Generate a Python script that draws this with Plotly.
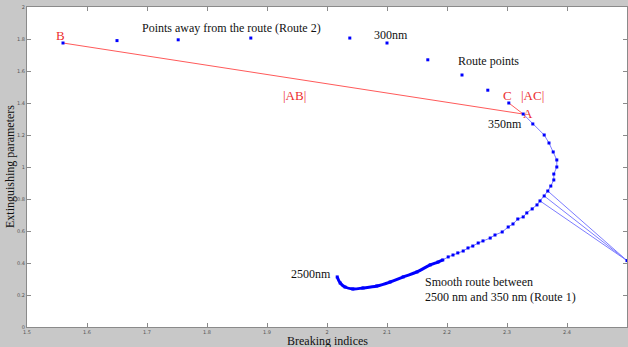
import plotly.graph_objects as go

# ---------------- data ----------------
# Route 1: smooth route from 2500 nm to 350 nm (point A)
route1_x = [2.017, 2.022, 2.030, 2.043, 2.060, 2.083, 2.105, 2.127, 2.150, 2.172,
            2.185, 2.193, 2.202, 2.210, 2.218, 2.227, 2.235, 2.243, 2.252, 2.260,
            2.272, 2.280, 2.292, 2.302, 2.310, 2.318, 2.327, 2.333, 2.342, 2.350,
            2.355, 2.362, 2.368, 2.373, 2.378, 2.378, 2.383, 2.383, 2.377, 2.370,
            2.362, 2.343, 2.327]
route1_y = [0.313, 0.275, 0.250, 0.238, 0.244, 0.256, 0.281, 0.313, 0.344, 0.388,
            0.406, 0.419, 0.438, 0.450, 0.463, 0.475, 0.494, 0.506, 0.525, 0.538,
            0.556, 0.575, 0.594, 0.625, 0.644, 0.675, 0.688, 0.713, 0.738, 0.763,
            0.788, 0.819, 0.850, 0.881, 0.919, 0.956, 1.000, 1.044, 1.094, 1.150,
            1.200, 1.269, 1.331]
smooth_count = 12  # leading points drawn as a thick smooth stroke

# Route 2: points away from the route (B ... C)
route2_x = [1.560, 1.650, 1.752, 1.873, 2.038, 2.100, 2.168, 2.225, 2.268, 2.303]
route2_y = [1.775, 1.790, 1.795, 1.806, 1.806, 1.775, 1.670, 1.575, 1.480, 1.400]

# Far point joined to three route-1 points
far_x = [2.500]
far_y = [0.415]
fan_idx = [30, 31, 32]

x_ticks = [1.5, 1.6, 1.7, 1.8, 1.9, 2.0, 2.1, 2.2, 2.3, 2.4, 2.5]
x_tick_labels = ["1.5", "1.6", "1.7", "1.8", "1.9", "2", "2.1", "2.2", "2.3", "2.4", "2.5"]
y_ticks = [0, 0.2, 0.4, 0.6, 0.8, 1.0, 1.2, 1.4, 1.6, 1.8, 2.0]
y_tick_labels = ["0", "0.2", "0.4", "0.6", "0.8", "1", "1.2", "1.4", "1.6", "1.8", "2"]

BLUE = "#0000ff"
LBLUE = "#7c7cff"
RED = "#ff5a5a"
RED_TXT = "#ec2f2f"
SERIF = "Liberation Serif, Times New Roman, serif"

fig = go.Figure()

# fan lines to far point
for i in fan_idx:
    fig.add_trace(go.Scatter(x=[route1_x[i], far_x[0]], y=[route1_y[i], far_y[0]],
                             mode="lines", line=dict(color=LBLUE, width=1),
                             hoverinfo="skip", showlegend=False))
fig.add_trace(go.Scatter(x=far_x, y=far_y, mode="markers",
                         marker=dict(color=BLUE, size=3, symbol="square"),
                         showlegend=False, cliponaxis=False))

# red lines: B -> A and A -> C
ax_, ay_ = route1_x[-1], route1_y[-1]
fig.add_trace(go.Scatter(x=[route2_x[0], ax_], y=[route2_y[0], ay_], mode="lines",
                         line=dict(color=RED, width=1), showlegend=False))
fig.add_trace(go.Scatter(x=[ax_, route2_x[-1]], y=[ay_, route2_y[-1]], mode="lines",
                         line=dict(color=RED, width=1), showlegend=False))

# route 1
fig.add_trace(go.Scatter(x=route1_x, y=route1_y, mode="lines+markers",
                         line=dict(color=LBLUE, width=1),
                         marker=dict(color=BLUE, size=3, symbol="square"),
                         showlegend=False))
fig.add_trace(go.Scatter(x=route1_x[:smooth_count], y=route1_y[:smooth_count], mode="lines",
                         line=dict(color=BLUE, width=3, shape="spline"),
                         showlegend=False))

# route 2
fig.add_trace(go.Scatter(x=route2_x, y=route2_y, mode="markers",
                         marker=dict(color=BLUE, size=3, symbol="square"),
                         showlegend=False))

def lab(text, x, y, color="#111111", anchor="center", size=12):
    fig.add_annotation(x=x, y=y, xref="x", yref="y", text=text, showarrow=False,
                       xanchor=anchor, yanchor="middle",
                       font=dict(family=SERIF, size=size, color=color))

lab("Points away from the route (Route 2)", 1.84, 1.869)
lab("300nm", 2.075, 1.825, anchor="left")
lab("Route points", 2.215, 1.6625, anchor="left")
lab("C", 2.300, 1.444, color=RED_TXT, size=13)
lab("|AC|", 2.342, 1.444, color=RED_TXT, size=13)
lab("A", 2.335, 1.3375, color=RED_TXT, size=13)
lab("350nm", 2.297, 1.269)
lab("B", 1.555, 1.825, color=RED_TXT, size=13)
lab("|AB|", 1.945, 1.45, color=RED_TXT, size=13)
lab("2500nm", 1.973, 0.331)
lab("Smooth route between", 2.16, 0.281, anchor="left")
lab("2500 nm and 350 nm (Route 1)", 2.16, 0.1875, anchor="left")

# axis titles
fig.add_annotation(text="Breaking indices", xref="paper", yref="paper", x=0.5, y=0,
                   yshift=-14, showarrow=False, xanchor="center", yanchor="middle",
                   font=dict(family=SERIF, size=12, color="#111111"))
fig.add_annotation(text="Extinguishing parameters", xref="paper", yref="paper", x=0, y=0.5,
                   xshift=-17, showarrow=False, textangle=-90, xanchor="center",
                   yanchor="middle", font=dict(family=SERIF, size=12, color="#111111"))

axis_common = dict(showgrid=False, zeroline=False, showline=True, linecolor="#8a8a8a",
                   linewidth=1, mirror="ticks", ticks="inside", ticklen=4,
                   tickcolor="#8a8a8a", tickfont=dict(family="DejaVu Sans", size=5, color="#555555"))

fig.update_xaxes(range=[1.5, 2.5], tickvals=x_ticks, ticktext=x_tick_labels, **axis_common)
fig.update_yaxes(range=[0, 2], tickvals=y_ticks, ticktext=y_tick_labels, **axis_common)

fig.update_layout(width=628, height=347, margin=dict(l=27, r=1, t=7, b=20),
                  paper_bgcolor="#c8c8c8", plot_bgcolor="#ffffff", showlegend=False)

fig.write_html("out.html")
